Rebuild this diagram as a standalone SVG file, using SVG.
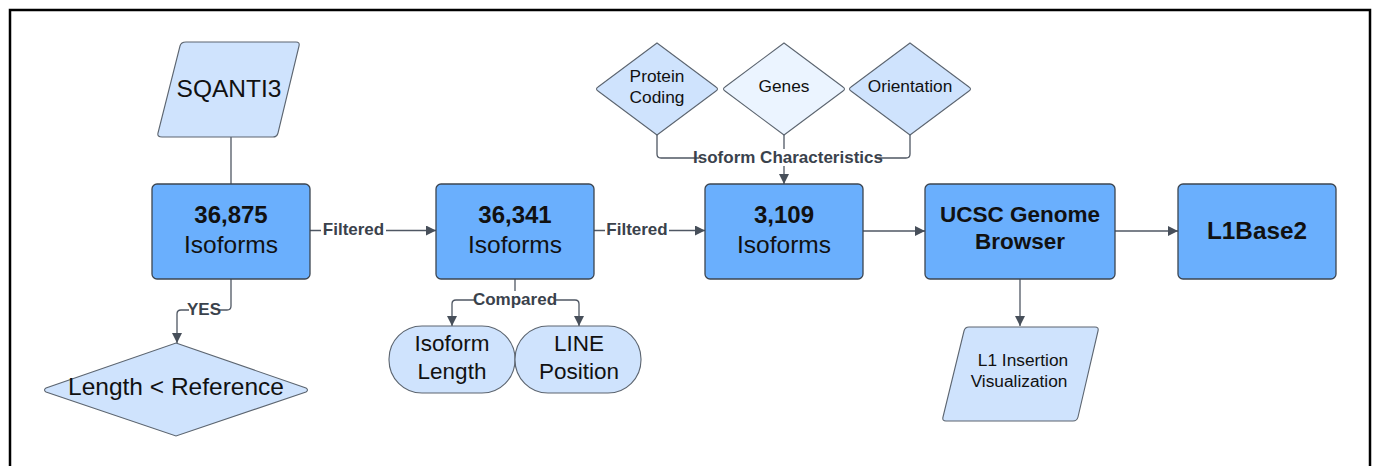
<svg xmlns="http://www.w3.org/2000/svg" width="1377" height="466" viewBox="0 0 1377 466">
<defs>
<marker id="arr" viewBox="0 0 10 10" refX="10" refY="5" markerWidth="10" markerHeight="10" markerUnits="userSpaceOnUse" orient="auto">
<path d="M0,0 L10,5 L0,10 Z" fill="#474f5a"/>
</marker>
<style>
.box{fill:#6aaffd;stroke:#3c4550;stroke-width:1.3}
.lt{fill:#cfe3fd;stroke:#5c6570;stroke-width:1.1}
.lt2{fill:#ebf4ff;stroke:#5c6570;stroke-width:1.1}
.t{font-family:"Liberation Sans",Arial,sans-serif;fill:#111;text-anchor:middle}
.b{font-weight:bold}
.c{fill:none;stroke:#4f5763;stroke-width:1.3}
.lab{font-family:"Liberation Sans",Arial,sans-serif;font-weight:bold;font-size:17px;fill:#3a424c;text-anchor:middle}
.lbg{fill:#fff}
</style>
</defs>
<rect x="0" y="0" width="1377" height="466" fill="#fff"/>
<rect x="10" y="10" width="1360" height="470" fill="none" stroke="#000" stroke-width="2.5"/>

<g id="connectors">
<path class="c" d="M231,137 V184" stroke-width="1"/>
<path class="c" d="M310,230.5 H436" marker-end="url(#arr)"/>
<path class="c" d="M594,230.5 H705" marker-end="url(#arr)"/>
<path class="c" d="M863,231 H925" marker-end="url(#arr)"/>
<path class="c" d="M1115,231 H1178" marker-end="url(#arr)"/>
<path class="c" d="M231,279 V306 Q231,310 227,310 H181 Q177,310 177,314 V343" marker-end="url(#arr)"/>
<path class="c" d="M515,279 V300"/>
<path class="c" d="M515,300 H456 Q452,300 452,304 V326" marker-end="url(#arr)"/>
<path class="c" d="M515,300 H575 Q579,300 579,304 V326" marker-end="url(#arr)"/>
<path class="c" d="M657,135 V154 Q657,158 661,158 H906 Q910,158 910,154 V135"/>
<path class="c" d="M784,135 V184" marker-end="url(#arr)"/>
<path class="c" d="M1020,279 V326" marker-end="url(#arr)"/>
<rect class="lbg" x="321" y="220" width="65" height="18"/>
<text class="lab" x="353.5" y="235">Filtered</text>
<rect class="lbg" x="605" y="220" width="64" height="18"/>
<text class="lab" x="637" y="235">Filtered</text>
<rect class="lbg" x="189" y="302" width="30" height="16"/>
<text class="lab" x="204" y="315" font-size="12.5">YES</text>
<rect class="lbg" x="476" y="291" width="78" height="17"/>
<text class="lab" x="515" y="304.5" font-size="14.5">Compared</text>
<rect class="lbg" x="699" y="149" width="178" height="17"/>
<text class="lab" x="788" y="162.5" font-size="15.8">Isoform Characteristics</text>
</g>

<g id="sqanti3">
<path class="lt" d="M186,42 H296 Q300,42 299,46 L278,133 Q277,137 273,137 H162 Q157,137 158,133 L180,46 Q181,42 186,42 Z"/>
<text class="t" x="229" y="97" font-size="24.5">SQANTI3</text>
</g>
<g id="n36875">
<rect class="box" x="152" y="184" width="158" height="95" rx="5"/>
<text class="t b" x="231" y="222.5" font-size="24">36,875</text>
<text class="t" x="231" y="252.5" font-size="24.5">Isoforms</text>
</g>
<g id="length-ref">
<path class="lt" d="M176,343 L306,388 Q309,390 306,392 L176,436 L46,392 Q43,390 46,388 Z"/>
<text class="t" x="176" y="395" font-size="24.5">Length &lt; Reference</text>
</g>
<g id="n36341">
<rect class="box" x="436" y="184" width="158" height="95" rx="5"/>
<text class="t b" x="515" y="222.5" font-size="24">36,341</text>
<text class="t" x="515" y="252.5" font-size="24.5">Isoforms</text>
</g>
<g id="isoform-length">
<rect class="lt" x="389" y="326" width="126" height="67" rx="33"/>
<text class="t" x="452" y="351" font-size="22.5">Isoform</text>
<text class="t" x="452" y="379" font-size="22.5">Length</text>
</g>
<g id="line-position">
<rect class="lt" x="515" y="326" width="126" height="67" rx="33"/>
<text class="t" x="579" y="351" font-size="22.5">LINE</text>
<text class="t" x="579" y="379" font-size="22.5">Position</text>
</g>
<g id="protein-coding">
<path class="lt" d="M657,43 L716,87 Q719,89 716,91 L657,135 L598,91 Q595,89 598,87 Z"/>
<text class="t" x="657" y="82" font-size="17.3">Protein</text>
<text class="t" x="657" y="103" font-size="17.3">Coding</text>
</g>
<g id="genes">
<path class="lt2" d="M784,43 L843,87 Q846,89 843,91 L784,135 L725,91 Q722,89 725,87 Z"/>
<text class="t" x="784" y="92" font-size="17.3">Genes</text>
</g>
<g id="orientation">
<path class="lt" d="M910,43 L969,87 Q972,89 969,91 L910,135 L851,91 Q848,89 851,87 Z"/>
<text class="t" x="910" y="92" font-size="17.3">Orientation</text>
</g>
<g id="n3109">
<rect class="box" x="705" y="184" width="158" height="95" rx="5"/>
<text class="t b" x="784" y="222.5" font-size="24">3,109</text>
<text class="t" x="784" y="252.5" font-size="24.5">Isoforms</text>
</g>
<g id="ucsc">
<rect class="box" x="925" y="184" width="190" height="95" rx="5"/>
<text class="t b" x="1020" y="221.5" font-size="22.5">UCSC Genome</text>
<text class="t b" x="1020" y="249" font-size="22.5">Browser</text>
</g>
<g id="l1base2">
<rect class="box" x="1178" y="184" width="158" height="95" rx="5"/>
<text class="t b" x="1257" y="238.5" font-size="24.3">L1Base2</text>
</g>
<g id="l1-insertion">
<path class="lt" d="M969,327 H1095 Q1099,327 1098,331 L1078,417 Q1077,421 1073,421 H946 Q942,421 943,417 L964,331 Q965,327 969,327 Z"/>
<text class="t" x="1023" y="366" font-size="17.3">L1 Insertion</text>
<text class="t" x="1019" y="387" font-size="17.3">Visualization</text>
</g>
</svg>
